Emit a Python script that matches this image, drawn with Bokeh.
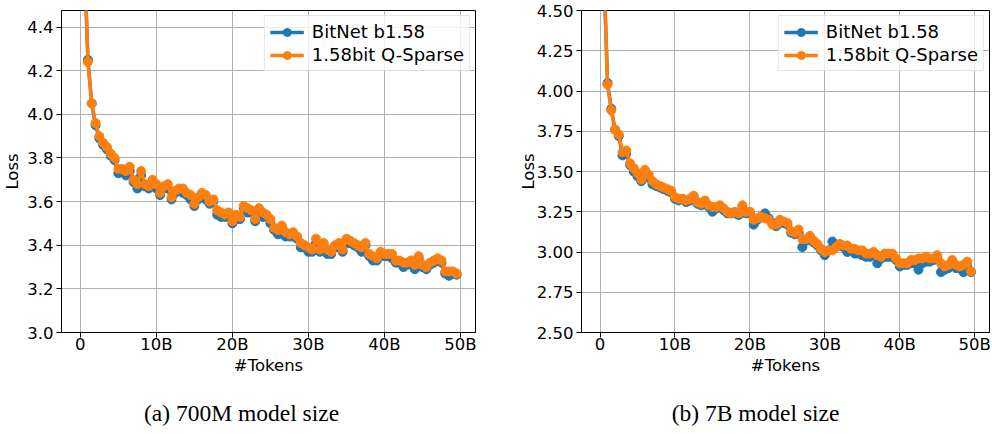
from bokeh.plotting import figure
from bokeh.layouts import row, column
from bokeh.models import FixedTicker, Range1d, Label, NumeralTickFormatter
from bokeh.embed import file_html
from bokeh.resources import INLINE

# ---------------- data ----------------
tokens = [round(0.5 * i, 1) for i in range(100)]  # billions of tokens

x_ticks = [0, 10, 20, 30, 40, 50]
x_tick_labels = ["0", "10B", "20B", "30B", "40B", "50B"]

series_names = ["BitNet b1.58", "1.58bit Q-Sparse"]

# 700M model
loss_700m_bitnet = [
    10.9, 4.76, 4.25, 4.05, 3.95, 3.89, 3.86, 3.84, 3.81, 3.79,
    3.73, 3.74, 3.72, 3.74, 3.69, 3.66, 3.72, 3.67, 3.66, 3.68,
    3.66, 3.63, 3.66, 3.66, 3.61, 3.64, 3.65, 3.64, 3.63, 3.61,
    3.58, 3.61, 3.63, 3.61, 3.59, 3.60, 3.54, 3.53, 3.53, 3.53,
    3.50, 3.52, 3.52, 3.57, 3.55, 3.55, 3.51, 3.56, 3.53, 3.53,
    3.50, 3.47, 3.45, 3.48, 3.44, 3.44, 3.44, 3.43, 3.39, 3.39,
    3.37, 3.37, 3.41, 3.37, 3.40, 3.36, 3.36, 3.39, 3.39, 3.37,
    3.41, 3.41, 3.40, 3.39, 3.37, 3.40, 3.35, 3.33, 3.33, 3.36,
    3.35, 3.35, 3.34, 3.32, 3.32, 3.30, 3.31, 3.32, 3.29, 3.34,
    3.30, 3.29, 3.31, 3.32, 3.33, 3.32, 3.27, 3.26, 3.27, 3.265,
]
loss_700m_qsparse = [
    10.9, 4.75, 4.24, 4.05, 3.96, 3.90, 3.87, 3.85, 3.82, 3.80,
    3.75, 3.75, 3.74, 3.76, 3.70, 3.68, 3.74, 3.68, 3.67, 3.70,
    3.68, 3.64, 3.67, 3.68, 3.62, 3.65, 3.66, 3.66, 3.64, 3.63,
    3.59, 3.62, 3.64, 3.63, 3.60, 3.61, 3.56, 3.55, 3.54, 3.55,
    3.51, 3.54, 3.53, 3.58, 3.57, 3.56, 3.52, 3.57, 3.55, 3.54,
    3.52, 3.48, 3.47, 3.49, 3.46, 3.45, 3.46, 3.44, 3.41, 3.40,
    3.39, 3.38, 3.43, 3.38, 3.41, 3.38, 3.37, 3.40, 3.41, 3.38,
    3.43, 3.42, 3.41, 3.40, 3.39, 3.41, 3.36, 3.35, 3.34, 3.37,
    3.36, 3.36, 3.36, 3.33, 3.33, 3.32, 3.32, 3.33, 3.31, 3.35,
    3.31, 3.30, 3.32, 3.33, 3.34, 3.33, 3.28, 3.28, 3.28, 3.27,
]

# 7B model
loss_7b_bitnet = [
    11.0, 4.76, 4.05, 3.89, 3.76, 3.72, 3.60, 3.61, 3.54, 3.50,
    3.47, 3.44, 3.50, 3.46, 3.42, 3.41, 3.40, 3.39, 3.38, 3.37,
    3.33, 3.32, 3.33, 3.31, 3.32, 3.34, 3.30, 3.29, 3.31, 3.28,
    3.25, 3.27, 3.28, 3.26, 3.24, 3.24, 3.24, 3.23, 3.27, 3.24,
    3.24, 3.17, 3.20, 3.22, 3.24, 3.21, 3.18, 3.16, 3.19, 3.18,
    3.17, 3.12, 3.11, 3.12, 3.03, 3.07, 3.09, 3.06, 3.04, 3.01,
    2.98, 3.01, 3.065, 3.04, 3.04, 3.03, 3.00, 3.01, 2.99, 2.99,
    2.98, 2.97, 2.97, 2.99, 2.93, 2.96, 2.97, 2.97, 2.97, 2.95,
    2.91, 2.92, 2.92, 2.93, 2.93, 2.89, 2.93, 2.94, 2.94, 2.95,
    2.96, 2.875, 2.89, 2.90, 2.92, 2.90, 2.90, 2.875, 2.91, 2.875,
]
loss_7b_qsparse = [
    11.0, 4.75, 4.04, 3.88, 3.76, 3.73, 3.62, 3.63, 3.55, 3.52,
    3.49, 3.45, 3.51, 3.48, 3.44, 3.42, 3.41, 3.40, 3.39, 3.38,
    3.34, 3.33, 3.33, 3.32, 3.33, 3.35, 3.31, 3.30, 3.32, 3.29,
    3.28, 3.28, 3.29, 3.27, 3.25, 3.24, 3.25, 3.24, 3.29, 3.25,
    3.25, 3.20, 3.21, 3.22, 3.21, 3.20, 3.17, 3.17, 3.20, 3.19,
    3.18, 3.13, 3.12, 3.14, 3.08, 3.08, 3.10, 3.07, 3.05, 3.02,
    3.00, 3.01, 3.01, 3.03, 3.05, 3.04, 3.04, 3.02, 3.02, 3.01,
    3.01, 2.99, 2.99, 3.00, 2.98, 2.97, 2.99, 2.99, 2.99, 2.96,
    2.93, 2.93, 2.93, 2.95, 2.95, 2.96, 2.96, 2.97, 2.96, 2.96,
    2.98, 2.93, 2.91, 2.92, 2.95, 2.92, 2.91, 2.92, 2.94, 2.88,
]

y_ticks_700m = [3.0, 3.2, 3.4, 3.6, 3.8, 4.0, 4.2, 4.4]
y_ticks_7b = [2.5, 2.75, 3.0, 3.25, 3.5, 3.75, 4.0, 4.25, 4.5]

captions = ["(a) 700M model size", "(b) 7B model size"]

# ---------------- styling ----------------
BLUE = "#1f77b4"
ORANGE = "#ff7f0e"
FONT = "DejaVu Sans"
H_PLOT = 386
H_CAP = 48


def make_panel(width, b_left, b_right, b_top, ylab_standoff, yrange, yticks, yfmt, bitnet, qsparse):
    p = figure(width=width, height=H_PLOT, output_backend="svg", toolbar_location=None,
               x_range=Range1d(-2.475, 51.975), y_range=Range1d(*yrange),
               min_border_left=b_left, min_border_right=b_right,
               min_border_top=b_top, min_border_bottom=54,
               background_fill_color="white", border_fill_color="white")
    p.title = None
    for vals, col, name in ((bitnet, BLUE, series_names[0]), (qsparse, ORANGE, series_names[1])):
        p.line(tokens, vals, line_color=col, line_width=3.5, legend_label=name)
        p.scatter(tokens, vals, size=9, fill_color=col, line_color=col, legend_label=name)

    p.xaxis.ticker = FixedTicker(ticks=x_ticks)
    p.xaxis.major_label_overrides = {t: l for t, l in zip(x_ticks, x_tick_labels)}
    p.yaxis.ticker = FixedTicker(ticks=yticks)
    p.yaxis.formatter = NumeralTickFormatter(format=yfmt)
    p.xaxis.axis_label = "#Tokens"
    p.yaxis.axis_label = "Loss"
    for ax in (p.xaxis[0], p.yaxis[0]):
        ax.axis_line_color = "black"
        ax.axis_line_width = 1
        ax.major_tick_line_color = "black"
        ax.major_tick_out = 5
        ax.major_tick_in = 0
        ax.minor_tick_line_color = None
        ax.major_label_text_font = FONT
        ax.major_label_text_font_size = "16.5px"
        ax.major_label_text_color = "black"
        ax.axis_label_text_font = FONT
        ax.axis_label_text_font_size = "16.5px"
        ax.axis_label_text_font_style = "normal"
        ax.axis_label_text_color = "black"
    p.xaxis.major_label_standoff = -3
    p.xaxis.axis_label_standoff = -1
    p.yaxis.major_label_standoff = 3
    p.yaxis.axis_label_standoff = ylab_standoff
    p.grid.grid_line_color = "#b0b0b0"
    p.grid.grid_line_width = 1
    p.outline_line_color = "black"
    p.outline_line_alpha = 1
    p.outline_line_width = 1

    lg = p.legend[0]
    lg.location = "top_right"
    lg.label_text_font = FONT
    lg.label_text_font_size = "18px"
    lg.label_text_color = "black"
    lg.border_line_color = "#cccccc"
    lg.border_line_width = 1
    lg.background_fill_alpha = 0.8
    lg.glyph_width = 34
    lg.label_standoff = 8
    lg.spacing = 2
    lg.padding = 5
    lg.margin = 5
    return p


def make_caption(width, text, xfrac):
    c = figure(width=width, height=H_CAP, output_backend="svg", toolbar_location=None,
               x_range=Range1d(0, 1), y_range=Range1d(0, 1),
               min_border_left=0, min_border_right=0, min_border_top=0, min_border_bottom=0,
               background_fill_color="white", border_fill_color="white")
    c.title = None
    c.axis.visible = False
    c.grid.visible = False
    c.outline_line_color = None
    c.add_layout(Label(x=xfrac, y=0.458, text=text, text_align="center", text_baseline="middle",
                       text_font="Liberation Serif", text_font_size="23.5px", text_color="black"))
    return c


p1 = make_panel(490, 58, 15, 4, 2, (3.0, 4.476), y_ticks_700m, "0.0",
                loss_700m_bitnet, loss_700m_qsparse)
p2 = make_panel(502, 91, 3, 10, -4, (2.5, 4.5), y_ticks_7b, "0.00",
                loss_7b_bitnet, loss_7b_qsparse)
c1 = make_caption(490, captions[0], 0.492)
c2 = make_caption(502, captions[1], 0.528)

layout = column(row(p1, p2), row(c1, c2), spacing=0)
open("out.html", "w").write(file_html(layout, INLINE))
